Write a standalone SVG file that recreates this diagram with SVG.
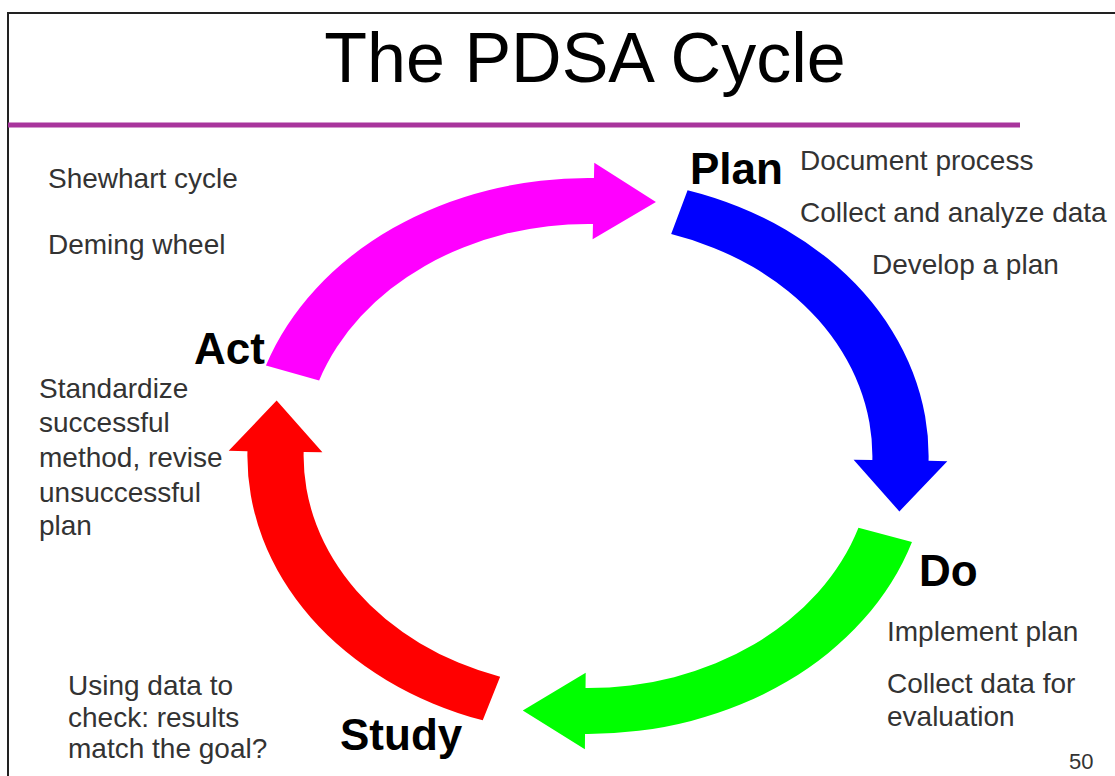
<svg xmlns="http://www.w3.org/2000/svg" width="1115" height="776" viewBox="0 0 1115 776">
  <style>
    .title { font-family: "Liberation Sans", Arial, sans-serif; font-size: 70px; fill: #000; }
    .stage { font-family: "Liberation Sans", Arial, sans-serif; font-size: 44px; font-weight: bold; fill: #000; }
    .note { font-family: "Liberation Sans", Arial, sans-serif; font-size: 28px; fill: #333; }
    .pageno { font-family: "Liberation Sans", Arial, sans-serif; font-size: 22px; fill: #333; }
  </style>
  <rect width="1115" height="776" fill="#fff"/>

  <!-- slide frame (top and left edges) -->
  <path d="M 8 800 V 13 H 1120" fill="none" stroke="#222" stroke-width="2"/>

  <!-- heading -->
  <text class="title" x="585" y="82" text-anchor="middle">The PDSA Cycle</text>
  <line x1="8" y1="125" x2="1020" y2="125" stroke="#a8359c" stroke-width="5"/>

  <!-- cycle arrows: drawn on a unit ring (mid radius 100) and stretched to the ellipse -->
  <g id="connectors" transform="translate(588 456) scale(3.125 2.55)">
    <path id="arrow-act-plan" fill="#ff00ff" d="M -103.06 -35.49 A 109 109 0 0 1 1.90 -108.98 L 2.01 -114.98 L 21.74 -99.64 L 1.48 -84.99 L 1.59 -90.99 A 91 91 0 0 0 -86.04 -29.63 Z"/>
    <path id="arrow-plan-do" fill="#0000ff" d="M 31.87 -104.24 A 109 109 0 0 1 108.98 1.90 L 114.98 2.01 L 99.64 21.74 L 84.99 1.48 L 90.99 1.59 A 91 91 0 0 0 26.61 -87.02 Z"/>
    <path id="arrow-do-study" fill="#00ff00" d="M 103.67 33.68 A 109 109 0 0 1 -0.95 108.99 L -1.00 115.00 L -20.87 99.82 L -0.74 85.00 L -0.79 91.00 A 91 91 0 0 0 86.55 28.12 Z"/>
    <path id="arrow-study-act" fill="#ff0000" d="M -33.68 103.67 A 109 109 0 0 1 -108.98 -1.90 L -114.98 -2.01 L -99.64 -21.74 L -84.99 -1.48 L -90.99 -1.59 A 91 91 0 0 0 -28.12 86.55 Z"/>
  </g>

  <!-- alternative names -->
  <g id="names">
    <text class="note" x="48" y="188">Shewhart cycle</text>
    <text class="note" x="48" y="254">Deming wheel</text>
  </g>

  <g id="node-plan">
    <text class="stage" x="690" y="184">Plan</text>
    <text class="note" x="800" y="170">Document process</text>
    <text class="note" x="800" y="222">Collect and analyze data</text>
    <text class="note" x="872" y="274">Develop a plan</text>
  </g>

  <g id="node-do">
    <text class="stage" x="919" y="586">Do</text>
    <text class="note" x="887" y="641">Implement plan</text>
    <text class="note" x="887" y="693">Collect data for</text>
    <text class="note" x="887" y="726">evaluation</text>
  </g>

  <g id="node-study">
    <text class="stage" x="340" y="750">Study</text>
    <text class="note" x="68" y="695">Using data to</text>
    <text class="note" x="68" y="727">check: results</text>
    <text class="note" x="68" y="758">match the goal?</text>
  </g>

  <g id="node-act">
    <text class="stage" x="194" y="364">Act</text>
    <text class="note" x="39" y="398">Standardize</text>
    <text class="note" x="39" y="432">successful</text>
    <text class="note" x="39" y="467">method, revise</text>
    <text class="note" x="39" y="502">unsuccessful</text>
    <text class="note" x="39" y="535">plan</text>
  </g>

  <text class="pageno" x="1069" y="769">50</text>
</svg>
